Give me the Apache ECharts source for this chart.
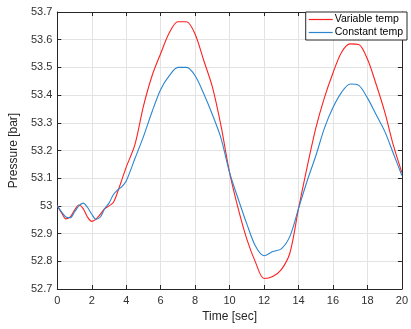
<!DOCTYPE html>
<html><head><meta charset="utf-8">
<script src="https://cdn.jsdelivr.net/npm/echarts@6/dist/echarts.min.js"></script>
<style>html,body{margin:0;padding:0;background:#fff}#c{width:411px;height:329px}</style>
</head><body><div id="c"></div>
<script>
const seriesNames = ["Variable temp", "Constant temp"];
const timeVals = [0,0.25,0.5,0.75,1,1.25,1.5,1.75,2,2.25,2.5,2.75,3,3.25,3.5,3.75,4,4.5,5,5.5,6,6.5,7,7.5,8,8.5,9,9.5,10,10.5,11,11.5,12,12.5,13,13.5,14,14.5,15,15.5,16,16.5,17,17.5,18,18.5,19,19.5,20];
const variableTemp = [53.000,52.975,52.953,52.960,52.985,53.003,52.990,52.960,52.944,52.952,52.970,52.990,53.000,53.012,53.050,53.095,53.140,53.220,53.360,53.470,53.550,53.625,53.665,53.665,53.620,53.525,53.430,53.290,53.120,52.990,52.880,52.797,52.738,52.745,52.770,52.830,52.990,53.140,53.280,53.390,53.480,53.555,53.585,53.583,53.530,53.440,53.340,53.220,53.120];
const constantTemp = [53.000,52.978,52.960,52.957,52.978,53.000,53.010,52.995,52.970,52.952,52.960,52.990,53.010,53.040,53.058,53.070,53.090,53.170,53.250,53.340,53.420,53.470,53.500,53.500,53.470,53.405,53.330,53.245,53.120,53.025,52.935,52.855,52.820,52.835,52.845,52.890,52.990,53.090,53.180,53.280,53.355,53.410,53.440,53.435,53.390,53.330,53.270,53.190,53.110];
const xTicks = [0,2,4,6,8,10,12,14,16,18,20];
const yTicks = [52.7,52.8,52.9,53,53.1,53.2,53.3,53.4,53.5,53.6,53.7];

const toPairs = (vals) => timeVals.map((t, i) => [t, vals[i]]);
const fmtY = v => { const r = Math.round(v * 10) / 10; return (Math.abs(r - Math.round(r)) < 1e-9) ? String(Math.round(r)) : r.toFixed(1); };
const axisColor = '#262626';
const font = 'Liberation Sans, Arial, sans-serif';
const chart = echarts.init(document.getElementById('c'), null, {renderer: 'canvas'});
const baseX = {
  type: 'value', min: xTicks[0], max: xTicks[xTicks.length-1], interval: 2,
  axisLine: {show: true, onZero: false, lineStyle: {color: axisColor, width: 1}},
  axisTick: {show: true, inside: true, length: 4, lineStyle: {color: axisColor}},
};
const baseY = {
  type: 'value', min: yTicks[0], max: yTicks[yTicks.length-1], interval: 0.1,
  axisLine: {show: true, onZero: false, lineStyle: {color: axisColor, width: 1}},
  axisTick: {show: true, inside: true, length: 4, lineStyle: {color: axisColor}},
};
chart.setOption({
  animation: false,
  backgroundColor: '#ffffff',
  grid: {left: 54, right: 5, top: 12, bottom: 40, containLabel: false},
  legend: {
    orient: 'vertical', right: 4, top: 12,
    data: seriesNames,
    backgroundColor: '#ffffff', borderColor: axisColor, borderWidth: 1,
    padding: [2, 4, 2, 3], itemGap: 2, itemWidth: 24, itemHeight: 10,
    icon: 'path://M0,5 L24,5 L24,6.2 L0,6.2 Z',
    textStyle: {fontFamily: font, fontSize: 10.5, color: '#000', padding: [0,0,0,-3]}
  },
  xAxis: [
    Object.assign({}, baseX, {
      position: 'bottom', name: 'Time [sec]', nameLocation: 'middle', nameGap: 22,
      nameTextStyle: {fontFamily: font, fontSize: 12, color: '#262626'},
      axisLabel: {fontFamily: font, fontSize: 11, color: '#303030', margin: 6},
      splitLine: {show: true, lineStyle: {color: '#e3e3e3', width: 1}}
    }),
    Object.assign({}, baseX, {position: 'top', axisLabel: {show: false}, splitLine: {show: false}})
  ],
  yAxis: [
    Object.assign({}, baseY, {
      position: 'left', name: 'Pressure [bar]', nameLocation: 'middle', nameGap: 30,
      nameTextStyle: {fontFamily: font, fontSize: 12, color: '#262626'},
      axisLabel: {fontFamily: font, fontSize: 11, color: '#303030', margin: 5, formatter: fmtY},
      splitLine: {show: true, lineStyle: {color: '#e3e3e3', width: 1}}
    }),
    Object.assign({}, baseY, {position: 'right', axisLabel: {show: false}, splitLine: {show: false}})
  ],
  series: [
    {name: seriesNames[0], type: 'line', data: toPairs(variableTemp), smooth: 0.3, showSymbol: false,
     lineStyle: {color: '#ff2020', width: 1.1}, itemStyle: {color: '#ff2020'}},
    {name: seriesNames[1], type: 'line', data: toPairs(constantTemp), smooth: 0.3, showSymbol: false,
     lineStyle: {color: '#2b86cf', width: 1.1}, itemStyle: {color: '#2b86cf'}}
  ]
});
</script></body></html>
